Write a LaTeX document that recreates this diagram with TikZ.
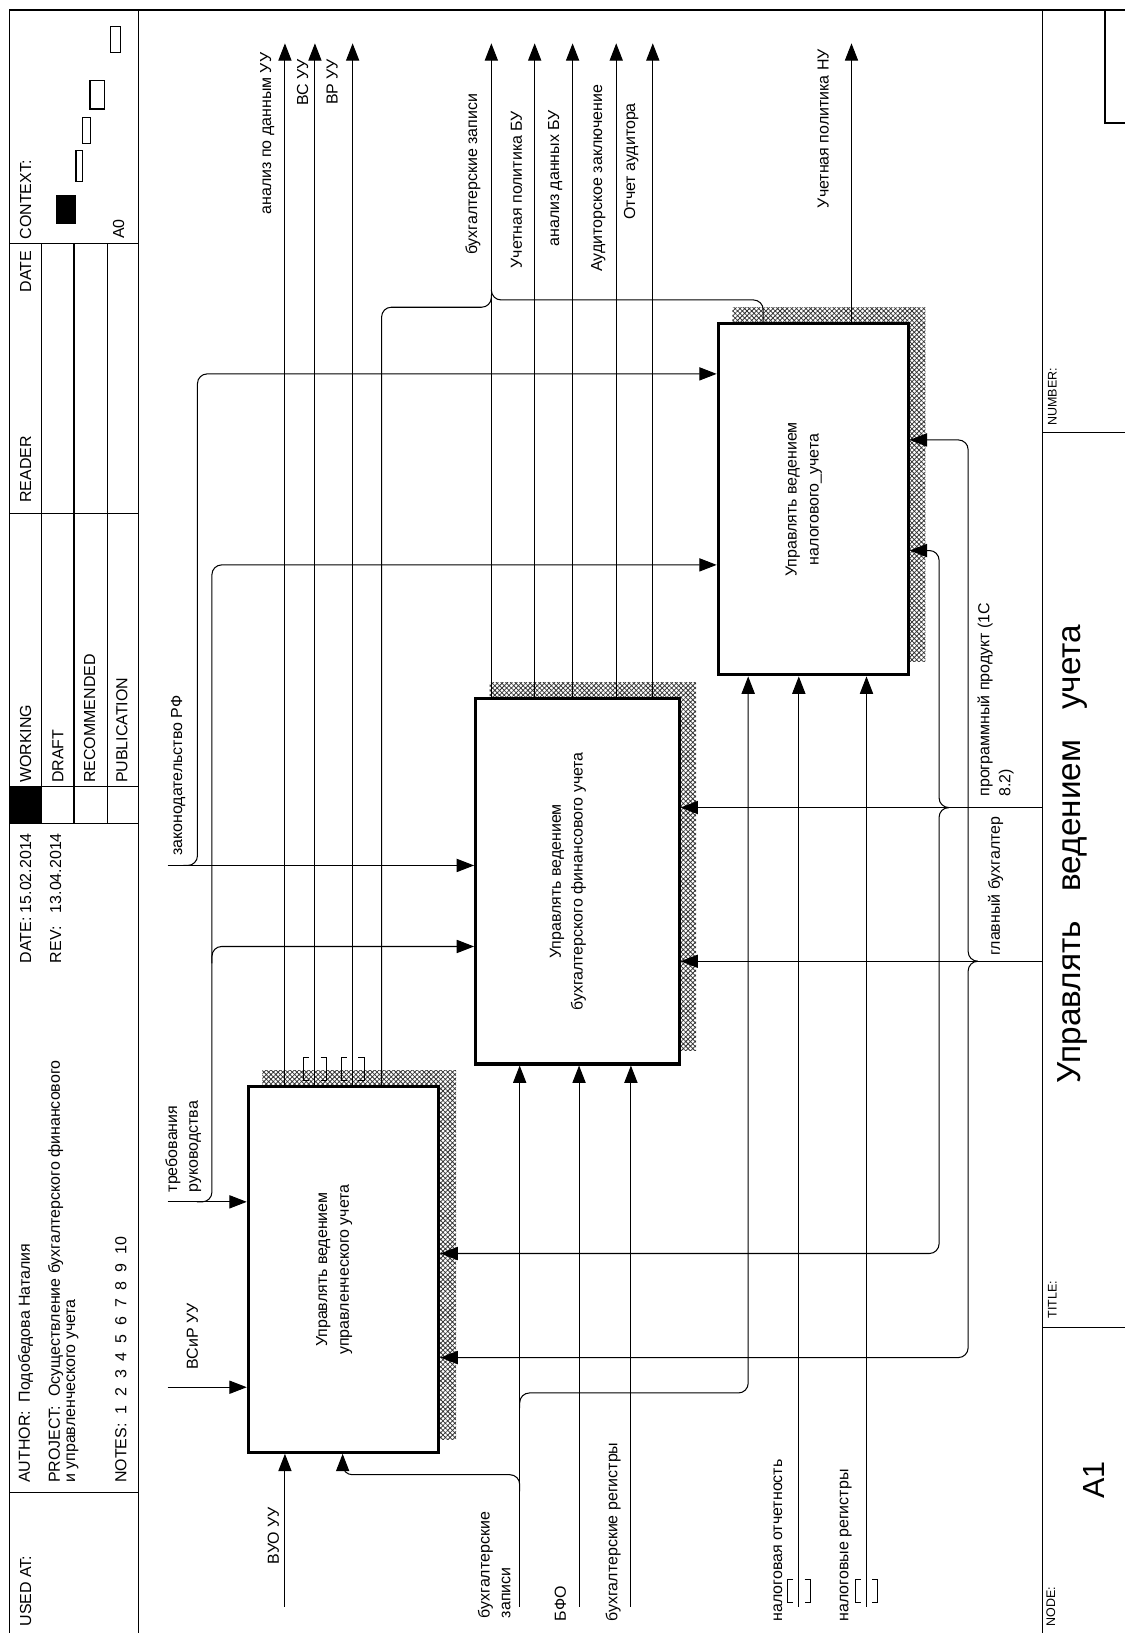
\documentclass[tikz,border=0pt]{standalone}
\usepackage{fontspec}
\setmainfont{Liberation Sans}
\usetikzlibrary{arrows.meta,calc,backgrounds,patterns.meta}

\tikzset{
	fn/.style={draw, line width=2.2pt, fill=white, rotate=90, inner sep=0pt},
	fntext/.style={rotate=90, align=center, inner sep=0pt, font=\fontsize{11.5}{15.75}\selectfont},
	lbl/.style={rotate=90, anchor=west, inner sep=0pt, align=left, font=\fontsize{11.5}{15}\selectfont},
	hdr/.style={rotate=90, anchor=west, inner sep=0pt, font=\fontsize{11.5}{14}\selectfont},
	ftlbl/.style={rotate=90, anchor=west, inner sep=0pt, font=\fontsize{9}{11}\selectfont},
	arr/.style={line width=0.75pt, -{Triangle[length=12.5pt,width=9.5pt]}},
	ln/.style={line width=0.75pt},
	frm/.style={line width=0.9pt},
	hatch/.style={fill=black!15, pattern={Hatch[distance=2.4pt, angle=45, line width=0.55pt]}, pattern color=black!80},
	tunnel/.pic={
		\draw[ln] (-5.5,-11) -- (-11,-11) -- (-11,11) -- (-5.5,11);
		\draw[ln] (5.5,-11) -- (11,-11) -- (11,11) -- (5.5,11);
	}
}

\begin{document}
\begin{tikzpicture}[x=0.75pt, y=-0.75pt]
	\useasboundingbox (0,0) rectangle (1080,1568);

	% frame, header and footer
	\draw[frm] (1080,9.6) -- (9,9.6) -- (9,1568);
	\draw[frm] (133,9.6) -- (133,1568);
	\foreach \y in {234,493,791,1433}
		\draw[frm] (9,\y) -- (133,\y);
	\foreach \x in {40,71,103}
		\draw[frm] (\x,234) -- (\x,791);
	\draw[frm] (40,755) -- (133,755);
	\fill (9,755) rectangle (40,791);
	\fill (53.4,187) rectangle (72.6,215);
	\draw[frm] (73,144.7) rectangle (79.4,174);
	\draw[frm] (79.4,113) rectangle (87,138);
	\draw[frm] (86.4,77) rectangle (100,104.6);
	\draw[frm] (106,25.7) rectangle (116,50.7);

	\draw[frm] (1001,9.6) -- (1001,1568);
	\draw[frm] (1001,415) -- (1080,415);
	\draw[frm] (1001,1275) -- (1080,1275);
	\draw[frm] (1061,9.6) -- (1061,118) -- (1080,118);

	\node[hdr] (usedat) at (24.7,1562) {USED AT:};
	\node[hdr] (author) at (24.7,1424) {AUTHOR:\ \ Подобедова Наталия};
	\node[hdr] (project) at (53.5,1424) {PROJECT:\ \ Осуществление бухгалтерского финансового};
	\node[hdr] (project2) at (69.6,1424) {и управленческого учета};
	\node[hdr] (notes) at (116,1424) {NOTES:~~1~~2~~3~~4~~5~~6~~7~~8~~9~~10};
	\node[hdr] (date) at (24.7,925) {DATE:};
	\node[hdr] (date-v) at (24.7,877) {15.02.2014};
	\node[hdr] (rev) at (53.5,925) {REV:};
	\node[hdr] (rev-v) at (53.5,877) {13.04.2014};
	\node[hdr] (working) at (24.7,752) {WORKING};
	\node[hdr] (draft) at (55.5,752) {DRAFT};
	\node[hdr] (recom) at (86,752) {RECOMMENDED};
	\node[hdr] (public) at (117,752) {PUBLICATION};
	\node[hdr] (reader) at (24.7,483) {READER};
	\node[hdr] (date-h) at (24.7,281) {DATE};
	\node[hdr] (context) at (24.7,230) {CONTEXT:};
	\node[hdr, anchor=center] (ctx-no) at (114,220) {A0};

	\node[ftlbl] (number) at (1010.5,409) {NUMBER:};
	\node[ftlbl] (title-h) at (1010.5,1266) {TITLE:};
	\node[ftlbl] (node-h) at (1009,1562) {NODE:};
	\node[rotate=90, inner sep=0pt, font=\fontsize{24}{28}\selectfont] (title) at (1030,820) {Управлять\hspace{0.9em}ведением\hspace{0.9em}учета};
	\node[rotate=90, inner sep=0pt, font=\fontsize{22}{26}\selectfont] (node-no) at (1050,1421) {A1};

	% function boxes
	\node[fn, minimum width=263.2pt, minimum height=137.25pt] (b1) at (329.9,1219) {};
	\node[fn, minimum width=263pt, minimum height=146.5pt] (b2) at (554.35,846.3) {};
	\node[fn, minimum width=252.75pt, minimum height=136.8pt] (b3) at (780.8,479.5) {};
	\begin{scope}[on background layer]
		\foreach \bx in {b1,b2,b3}
			\fill[hatch] ($(\bx.north west)+(15,-14)$) rectangle ($(\bx.south east)+(15,-14)$);
	\end{scope}
	\node[fntext] (b1-t) at ($(b1)+(-9,0)$) {Управлять ведением\\управленческого учета};
	\node[fntext] (b2-t) at ($(b2)+(-9,0)$) {Управлять ведением\\бухгалтерского финансового учета};
	\node[fntext] (b3-t) at ($(b3)+(-9,0)$) {Управлять ведением\\налогового\_учета};

	% free ends
	\coordinate (o-anuu) at (273.6,41.6);
	\coordinate (o-vsuu) at (302.4,41.6);
	\coordinate (o-vruu) at (338.6,41.6);
	\coordinate (o-bz) at (471.8,41.6);
	\coordinate (o-upbu) at (513.4,41.6);
	\coordinate (o-adbu) at (549.8,41.6);
	\coordinate (o-az) at (591.7,41.6);
	\coordinate (o-oa) at (626.8,41.6);
	\coordinate (o-upnu) at (817.6,41.6);
	\coordinate (i-vuo) at (273.6,1543);
	\coordinate (i-bz) at (499,1543);
	\coordinate (i-bfo) at (556,1543);
	\coordinate (i-br) at (605.8,1543);
	\coordinate (i-no) at (767,1543);
	\coordinate (i-nr) at (832,1543);
	\coordinate (c-zak) at (161,831);
	\coordinate (c-treb) at (161,1154);
	\coordinate (c-vsir) at (161,1332);
	\coordinate (m-prog) at (1001,775.4);
	\coordinate (m-gb) at (1001,923);
	\coordinate (f-prog) at (901.7,775.4);
	\coordinate (f-gb) at (929.6,923);

	% outputs
	\foreach \c in {o-anuu,o-vsuu,o-vruu}
		\draw[arr] (\c |- b1.east) -- (\c);
	\foreach \c in {o-bz,o-upbu,o-adbu,o-az,o-oa}
		\draw[arr] (\c |- b2.east) -- (\c);
	\draw[arr] (o-upnu |- b3.east) -- (o-upnu);
	\draw[ln, rounded corners=7] (b1.east -| 366.4,0) |- (471.8,295) -- ++(0,-12);
	\draw[ln, rounded corners=7] (b3.east -| 732.8,0) |- (471.8,288) -- ++(0,-10);
	\pic at ($(o-vsuu |- b1.east)+(0,-16)$) {tunnel};
	\pic at ($(o-vruu |- b1.east)+(0,-16)$) {tunnel};

	% inputs
	\draw[arr] (i-vuo) -- (i-vuo |- b1.west);
	\foreach \c in {i-bz,i-bfo,i-br}
		\draw[arr] (\c) -- (\c |- b2.west);
	\foreach \c in {i-no,i-nr}
		\draw[arr] (\c) -- (\c |- b3.west);
	\draw[arr, rounded corners=7] (i-bz |- 0,1432) |- (329,1416) -- (329,0 |- b1.west);
	\draw[arr, rounded corners=7] (i-bz |- 0,1352) |- (718.4,1337.5) -- (718.4,0 |- b3.west);
	\pic at ($(i-no)+(0,-15)$) {tunnel};
	\pic at ($(i-nr)+(0,-15)$) {tunnel};

	% controls
	\draw[arr] (c-zak) -- (c-zak -| b2.north);
	\draw[arr] (c-treb) -- (c-treb -| b1.north);
	\draw[arr] (c-vsir) -- (c-vsir -| b1.north);
	\draw[arr, rounded corners=7] ($(c-zak)+(15,0)$) -| (189.6,359) -- (b3.north |- 0,359);
	\draw[arr, rounded corners=7] ($(c-treb)+(28,0)$) -| (203.5,542.4) -- (b3.north |- 0,542.4);
	\draw[arr, rounded corners=7] (203.5,925) |- (b2.north |- 0,908.8);

	% mechanisms
	\draw[arr] (m-prog) -- (m-prog -| b2.south);
	\draw[arr] (m-gb) -- (m-gb -| b2.south);
	\draw[arr, rounded corners=7] ($(f-prog)+(7,0)$) -- (f-prog) |- (b3.south |- 0,528.6);
	\draw[arr, rounded corners=7] ($(f-prog)+(7,0)$) -- (f-prog) |- (b1.south |- 0,1203.6);
	\draw[arr, rounded corners=7] ($(f-gb)+(7,0)$) -- (f-gb) |- (b3.south |- 0,422.4);
	\draw[arr, rounded corners=7] ($(f-gb)+(7,0)$) -- (f-gb) |- (b1.south |- 0,1303.5);

	% arrow labels
	\node[lbl] (l-anuu) at (256.6,206) {анализ по данным УУ};
	\node[lbl] (l-vsuu) at (290.5,102) {ВС УУ};
	\node[lbl] (l-vruu) at (319,101) {ВР УУ};
	\node[lbl] (l-bz) at (454,245) {бухгалтерские записи};
	\node[lbl] (l-upbu) at (496,258) {Учетная политика БУ};
	\node[lbl] (l-adbu) at (533,237) {анализ данных БУ};
	\node[lbl] (l-az) at (574.5,261) {Аудиторское заключение};
	\node[lbl] (l-oa) at (606,211) {Отчет аудитора};
	\node[lbl] (l-upnu) at (790.5,200) {Учетная политика НУ};
	\node[lbl] (l-zak) at (171,822) {законодательство РФ};
	\node[lbl] (l-treb) at (176,1145) {требования\\руководства};
	\node[lbl] (l-vsir) at (184.7,1315) {ВСиР УУ};
	\node[lbl] (l-vuo) at (262.5,1502) {ВУО УУ};
	\node[lbl] (l-ibz) at (474.5,1554) {бухгалтерские\\записи};
	\node[lbl] (l-bfo) at (538,1557) {БФО};
	\node[lbl] (l-br) at (588.7,1557) {бухгалтерские регистры};
	\node[lbl] (l-no) at (747,1557) {налоговая отчетность};
	\node[lbl] (l-nr) at (812,1557) {налоговые регистры};
	\node[lbl] (l-prog) at (956,765) {программный продукт (1С\\8.2)};
	\node[lbl] (l-gb) at (956,918) {главный бухгалтер};
\end{tikzpicture}
\end{document}
